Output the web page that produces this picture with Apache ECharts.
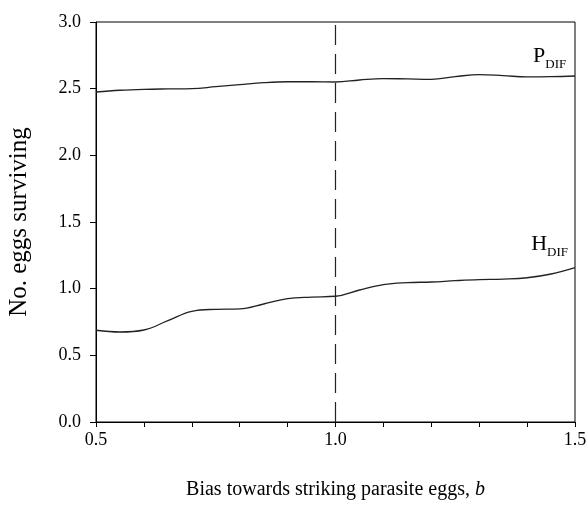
<!DOCTYPE html>
<html><head><meta charset="utf-8">
<script src="https://cdn.jsdelivr.net/npm/echarts@6/dist/echarts.min.js"></script>
<style>html,body{margin:0;padding:0;background:#fff}#c{width:588px;height:507px}</style>
</head><body><div id="c"></div>
<script>
const xValues = [0.5,0.55,0.6,0.65,0.7,0.75,0.8,0.85,0.9,0.95,1.0,1.05,1.1,1.15,1.2,1.25,1.3,1.35,1.4,1.45,1.5];
const hDif = [0.688,0.675,0.69,0.76,0.83,0.845,0.848,0.885,0.925,0.937,0.943,0.99,1.03,1.045,1.05,1.06,1.068,1.072,1.082,1.11,1.158];
const pDif = [2.475,2.488,2.495,2.498,2.50,2.515,2.53,2.545,2.552,2.552,2.55,2.565,2.576,2.573,2.57,2.59,2.606,2.598,2.588,2.59,2.595];
const xTickLabels = ['0.5','1.0','1.5'];
const yTickLabels = ['0.0','0.5','1.0','1.5','2.0','2.5','3.0'];
const refLineX = 1.0;
const labels = [{name:'P', coord:[1.447,2.76]},{name:'H', coord:[1.447,1.35]}];

const font = '"Liberation Serif","Times New Roman",serif';
const chart = echarts.init(document.getElementById('c'));
const mk = arr => xValues.map((x,i)=>[x,arr[i]]);
const lineBase = {type:'line', smooth:0.4, showSymbol:false, symbol:'none', lineStyle:{color:'#222', width:1.3}};
chart.setOption({
  animation:false,
  grid:{left:96, right:13, top:22, bottom:85, show:true, borderColor:'#000', borderWidth:1, containLabel:false, outerBoundsMode:'none'},
  xAxis:{type:'value', min:0.5, max:1.5, interval:0.1,
    name:'Bias towards striking parasite eggs, {i|b}', nameLocation:'middle', nameGap:58,
    nameTextStyle:{fontFamily:font, fontSize:20, color:'#000', rich:{i:{fontFamily:font, fontSize:20, fontStyle:'italic', color:'#000'}}},
    axisLine:{lineStyle:{color:'#000', width:1}},
    axisTick:{length:5, lineStyle:{color:'#000'}},
    splitLine:{show:false},
    axisLabel:{fontFamily:font, fontSize:18, color:'#000', margin:9,
      formatter:v=>{const s=v.toFixed(1); return xTickLabels.includes(s)?s:'';}}
  },
  yAxis:{type:'value', min:0, max:3, interval:0.5,
    name:'No. eggs surviving', nameLocation:'middle', nameGap:64,
    nameTextStyle:{fontFamily:font, fontSize:25, color:'#000'},
    axisLine:{show:true, lineStyle:{color:'#000', width:1}},
    axisTick:{show:true, length:6, lineStyle:{color:'#000'}},
    splitLine:{show:false},
    axisLabel:{fontFamily:font, fontSize:18, color:'#000', margin:15,
      formatter:v=>{const s=v.toFixed(1); return yTickLabels.includes(s)?s:'';}}
  },
  series:[
    Object.assign({}, lineBase, {name:'PDIF', data:mk(pDif),
      markLine:{silent:true, symbol:'none', label:{show:false},
        lineStyle:{color:'#222', type:[20,9], width:1.2},
        data:[{xAxis:refLineX}]},
      markPoint:{symbol:'circle', symbolSize:1, itemStyle:{color:'rgba(0,0,0,0)'}, silent:true,
        data:labels.map(l=>({coord:l.coord, value:l.name,
        label:{show:true, position:'inside', formatter:'{m|'+l.name+'}{s|DIF}',
          rich:{m:{fontFamily:font, fontSize:22, color:'#000', lineHeight:26, verticalAlign:'bottom'},
                s:{fontFamily:font, fontSize:13, color:'#000', lineHeight:26, verticalAlign:'bottom', padding:[0,0,-4,0]}}}}))}
    }),
    Object.assign({}, lineBase, {name:'HDIF', data:mk(hDif)})
  ]
});
</script></body></html>
